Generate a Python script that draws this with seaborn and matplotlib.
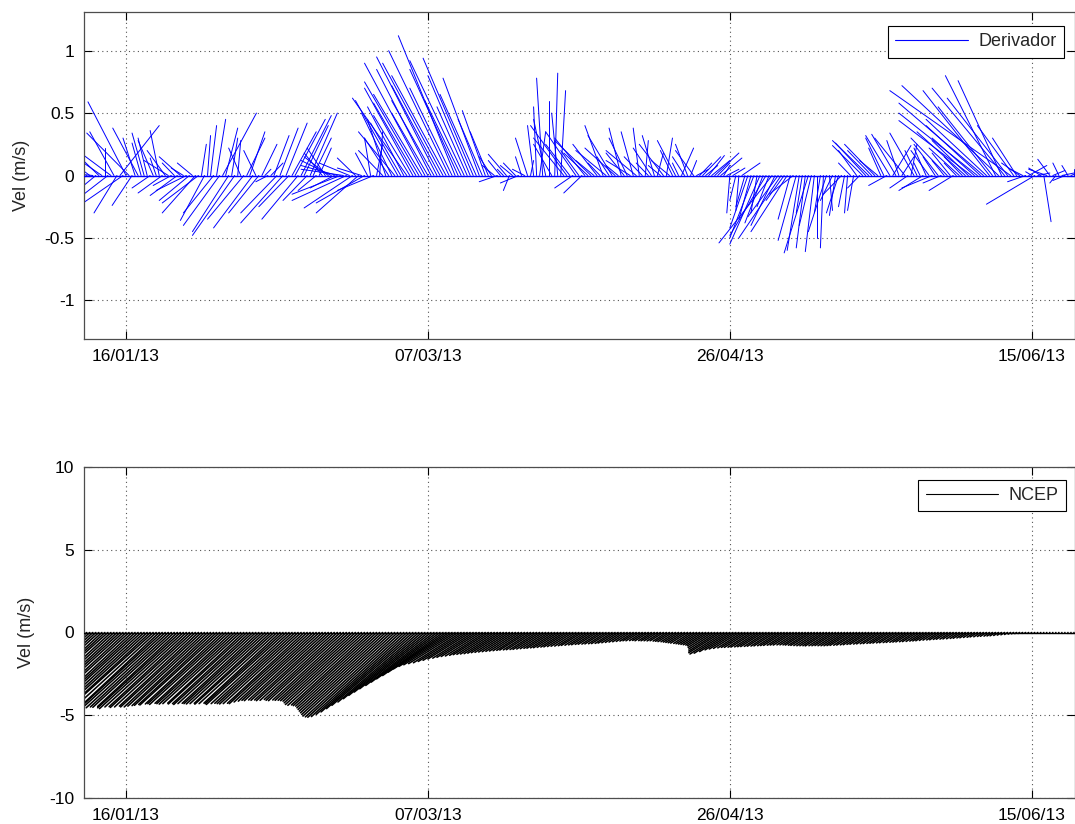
import numpy as np
import pandas as pd
import matplotlib
matplotlib.use("Agg")
import matplotlib.pyplot as plt
import matplotlib.dates as mdates
from matplotlib.lines import Line2D
import seaborn as sns

# ---------------- data ----------------
# sampling: every 12 h, day-of-year 9.0 ... 173.0 (2013)
start_doy = 9.0
step_days = 0.5

# Drifter (Derivador) sticks: east component as time offset (days), north component (m/s)
drift_u = [
    -3, -4, -5, -6, -5, -6, -3, 0, -4, -5, -4, -3.8, 6.5, -6.6, -6.3, -7, -3.3, -2, -4.2, -1.5,
    -2, -1.5, -3, -2.5, -1, -1.5, -4, -3, -4, -3, -2, -4.5, -3.5, -2, -5, -5, -2.5, -5.5, -6, 0.8,
    -4, 0.5, 1, -5, 1.5, -6, 5.6, 2, -6, 1, -7, 0.5, -2, -6, 3, 2.5, -6.5, -2, -5, 2.5,
    1, -2, 2, 2.5, -6, 3, -7, 3.5, -5, 4, 5, -6, 5, 4, -4, 4.5, 3, -3, 2, -3,
    -3, -4, -5, -4, -6, -8, -7, -9, -5, -8, -3, -7, -4, -8, -2, -1, -6, 1, 0.5, -4,
    -3, -4, -5, -6, -7, -5, -6, -9, -6, -8, -7, -9, -8, -10, -6, -9, -7, -10, -8, -10,
    -9, -10, -7, -9.4, -8, -6, -9, -5, -7, -8.3, -6, -6, -4, -3.8, -3, -2, -2, -3, -2, -1,
    -3, -1, -2, -2, -3, -1, -2, -2, 0.5, -1, -0.5, 1, -1, -2, 0, -3, 0.5, -1, 0.8, -5,
    -6, -4, -3, -5, -3, -3, -5, -4, -6, -3, -4, -2, -3, -5, -2, -4, -5, -2, -2, -3,
    -3, -4, -2, -5, -1, -3, 0.5, -2, -3, -2, 1, -2, -4, 1, -3, -2, -3, -1, 2, -2,
    -2, 1, -3, 2, 2, 3, 2, 2.6, 3, 4, 2, 3.5, 1, 2, -0.5, 2, -1, -0.5, 3, -1.5,
    -3, -2, -4, -1, -5, -3, -6, -2, -8.8, -4, -5, -7, -3, -6, -2, -4, -3, -2, -1, -1.5,
    -4, -2, -1.5, 0, -1, -0.5, -3, 0.5, -2, -1, -2, -3, -1, -0.5, -2, -1, -3, -2, -5, -5,
    -6, -4, -5, -3, -2, -3, -3, -4, 3, -4, -2, 2, -5, -3, 1, -4, -2, -1, -4, -2,
    -3, -5, -2, -4, -3, -2, -6, -3, -4, -2, -5, -3, -8, -6, -12, -7, -13, -9, -14, -10,
    -11, -9, -8.3, -16, -7.2, -12, -10, -20, -6, -4, -3, -2, -3, 3, -1, -8, 2, -2, 1.2, -3,
    -2, 2, -1, -1, 3, -2, -1, 1, 0,
]
drift_v = [
    0.05, -0.12, 0.18, 0.03, -0.2, 0.28, 0.1, 0.22, -0.15, 0.18, 0.35, -0.3, 0.4, -0.22, 0.59, 0.34, -0.24, 0.3, 0.38, 0.26,
    0.34, 0.3, -0.1, 0.28, 0.14, 0.36, -0.14, 0.2, 0.12, -0.08, 0.1, -0.16, 0.15, 0.06, -0.12, -0.2, 0.1, -0.3, -0.22, 0.25,
    -0.36, 0.32, 0.4, -0.3, 0.45, -0.4, 0.5, 0.38, -0.45, 0.3, -0.48, 0.28, 0.22, -0.35, 0.3, 0.35, -0.42, 0.2, -0.3, 0.25,
    0.05, -0.05, 0.1, 0.32, -0.3, 0.38, -0.38, 0.42, -0.25, 0.35, 0.45, -0.35, 0.48, 0.4, -0.2, 0.5, 0.3, -0.12, 0.22, 0.18,
    0.22, 0.15, 0.12, -0.1, 0.08, -0.15, 0.05, -0.2, 0.1, -0.26, 0.14, -0.3, 0.06, -0.22, 0.18, 0.3, -0.12, 0.25, 0.35, 0.2,
    0.45, 0.3, 0.5, 0.35, 0.6, 0.42, 0.55, 0.62, 0.48, 0.7, 0.58, 0.75, 0.65, 0.9, 0.5, 0.85, 0.6, 0.95, 0.72, 0.9,
    0.8, 1.0, 0.7, 1.12, 0.85, 0.6, 0.92, 0.55, 0.8, 0.94, 0.65, 0.78, 0.45, 0.52, 0.35, 0.15, 0.08, -0.05, 0.12, 0.05,
    0.17, -0.12, 0.08, 0.1, -0.06, 0.15, 0.05, 0.3, 0.12, 0.4, 0.55, 0.35, 0.78, 0.45, 0.6, 0.25, 0.82, 0.5, 0.68, 0.3,
    0.4, 0.25, -0.1, 0.35, 0.2, -0.14, 0.3, 0.18, 0.28, 0.12, 0.25, 0.1, 0.4, 0.2, 0.15, 0.32, 0.22, 0.08, 0.38, 0.18,
    0.3, 0.12, 0.35, 0.2, 0.38, 0.15, 0.28, 0.1, 0.22, 0.32, 0.18, 0.08, 0.25, 0.3, 0.12, 0.2, 0.28, 0.1, 0.22, 0.15,
    0.25, 0.12, 0.2, 0.05, 0.1, 0.15, 0.08, 0.16, 0.12, 0.18, 0.1, 0.14, 0.08, 0.05, -0.3, 0.06, -0.2, -0.28, 0.1, -0.25,
    -0.42, -0.35, -0.5, -0.3, -0.55, -0.38, -0.48, -0.25, -0.54, -0.4, -0.33, -0.5, -0.2, -0.45, -0.35, -0.15, -0.52, -0.6, -0.3, -0.58,
    -0.62, -0.4, -0.61, -0.5, -0.3, -0.58, -0.45, -0.28, -0.2, -0.32, -0.3, -0.15, -0.25, -0.3, 0.1, -0.28, 0.2, -0.1, 0.24, 0.26,
    0.28, 0.2, 0.25, 0.12, 0.22, 0.3, -0.08, 0.32, 0.24, 0.33, 0.28, 0.15, 0.3, -0.1, 0.25, 0.34, 0.2, 0.1, -0.12, 0.22,
    0.2, -0.1, 0.15, 0.25, -0.06, 0.12, 0.3, 0.18, -0.12, 0.1, 0.22, 0.15, 0.35, 0.28, 0.44, 0.3, 0.5, 0.4, 0.58, 0.45,
    0.68, 0.55, 0.8, 0.72, 0.76, 0.7, 0.62, 0.68, 0.4, 0.3, 0.1, 0.05, -0.05, 0.08, 0.03, -0.23, 0.02, 0.06, -0.37, 0.05,
    0.13, 0.04, -0.06, 0.1, 0.03, -0.04, 0.08, 0.02, 0.05,
]

# NCEP wind sticks: east component as time offset (days), north component (m/s)
ncep_u = [
    -13.5, -13.2, -13.8, -13.4, -13.6, -13.9, -13.1, -13.5, -14.2, -13.6, -13.5, -13.3, -13.7, -13.9, -13.4, -13.6, -13.2, -13.5, -13.8, -13.5,
    -13.4, -13.6, -13.3, -14.0, -13.5, -13.0, -13.5, -13.8, -13.6, -13.4, -13.5, -13.2, -13.7, -13.9, -13.5, -13.3, -13.6, -13.4, -13.1, -13.4,
    -13.3, -13.2, -13.0, -13.1, -12.9, -13.2, -12.8, -12.9, -13.1, -12.7, -12.9, -13.0, -12.9, -12.6, -13.0, -12.8, -13.1, -12.9, -12.7, -12.9,
    -13.0, -12.9, -12.7, -13.1, -12.9, -12.6, -12.9, -13.2, -12.9, -12.8, -12.9, -13.0, -12.9, -12.7, -12.9, -12.6, -12.4, -12.3, -12.4, -12.2,
    -12.3, -12.2, -12.4, -12.3, -12.1, -12.3, -12.4, -12.2, -12.3, -12.3, -12.4, -12.5, -12.8, -13.1, -13.2, -13.1, -13.3, -13.4, -13.7, -14.0,
    -14.3, -14.6, -14.9, -15.2, -15.3, -15.4, -15.3, -15.0, -14.7, -14.3, -13.9, -13.4, -13.0, -12.6, -12.2, -11.8, -11.3, -10.9, -10.5, -10.0,
    -9.6, -9.2, -8.8, -8.5, -8.2, -7.9, -7.6, -7.3, -7.0, -6.7, -6.5, -6.3, -6.1, -5.9, -5.8, -5.7, -5.6, -5.5, -5.4, -5.3,
    -5.2, -5.1, -5.0, -4.9, -4.8, -4.7, -4.6, -4.6, -4.5, -4.5, -4.4, -4.4, -4.3, -4.2, -4.1, -4.1, -4.0, -4.0, -3.9, -3.8,
    -3.8, -3.7, -3.6, -3.5, -3.4, -3.4, -3.3, -3.2, -3.2, -3.1, -3.1, -3.0, -3.0, -2.9, -2.9, -2.8, -2.8, -2.7, -2.6, -2.5,
    -2.4, -2.3, -2.2, -2.2, -2.2, -2.1, -2.1, -2.2, -2.1, -2.2, -2.2, -2.2, -2.2, -2.2, -2.3, -2.4, -2.4, -2.5, -2.6, -2.7,
    -2.8, -2.8, -2.9, -3.0, -3.1, -3.2, -3.3, -3.5, -3.9, -4.3, -4.8, -5.3, -5.6, -5.4, -5.0, -4.6, -4.4, -4.2, -4.0, -3.9,
    -3.9, -3.8, -3.8, -3.7, -3.7, -3.7, -3.6, -3.6, -3.5, -3.5, -3.4, -3.4, -3.4, -3.3, -3.3, -3.3, -3.2, -3.2, -3.2, -3.3,
    -3.3, -3.4, -3.4, -3.4, -3.4, -3.4, -3.5, -3.4, -3.4, -3.4, -3.4, -3.4, -3.4, -3.4, -3.4, -3.3, -3.3, -3.2, -3.2, -3.1,
    -3.1, -3.0, -3.0, -2.9, -2.9, -2.8, -2.8, -2.8, -2.7, -2.7, -2.6, -2.6, -2.5, -2.5, -2.5, -2.4, -2.4, -2.3, -2.2, -2.2,
    -2.2, -2.1, -2.0, -1.9, -1.9, -1.8, -1.8, -1.7, -1.7, -1.6, -1.5, -1.5, -1.4, -1.4, -1.3, -1.2, -1.2, -1.1, -1.0, -1.0,
    -0.9, -0.9, -0.9, -0.8, -0.7, -0.6, -0.5, -0.4, -0.35, -0.3, -0.26, -0.22, -0.17, -0.15, -0.13, -0.11, -0.09, -0.08, -0.06, -0.05,
    -0.04, -0.04, -0.03, -0.03, -0.02, -0.02, -0.01, -0.01, -0.01,
]
ncep_v = [
    -4.55, -4.5, -4.6, -4.48, -4.52, -4.58, -4.45, -4.5, -4.62, -4.55, -4.5, -4.47, -4.56, -4.6, -4.5, -4.53, -4.48, -4.55, -4.6, -4.52,
    -4.5, -4.55, -4.48, -4.6, -4.52, -4.45, -4.5, -4.58, -4.55, -4.5, -4.52, -4.47, -4.55, -4.6, -4.5, -4.48, -4.53, -4.5, -4.45, -4.5,
    -4.5, -4.45, -4.42, -4.4, -4.35, -4.38, -4.32, -4.3, -4.35, -4.28, -4.3, -4.33, -4.3, -4.27, -4.32, -4.3, -4.35, -4.3, -4.28, -4.3,
    -4.32, -4.3, -4.28, -4.33, -4.3, -4.27, -4.3, -4.35, -4.3, -4.28, -4.3, -4.32, -4.3, -4.28, -4.3, -4.2, -4.15, -4.1, -4.12, -4.08,
    -4.1, -4.08, -4.12, -4.1, -4.05, -4.1, -4.12, -4.08, -4.1, -4.1, -4.12, -4.15, -4.25, -4.35, -4.4, -4.38, -4.42, -4.45, -4.55, -4.65,
    -4.75, -4.85, -4.95, -5.05, -5.1, -5.12, -5.08, -4.95, -4.8, -4.6, -4.4, -4.2, -4.0, -3.8, -3.6, -3.4, -3.2, -3.0, -2.8, -2.6,
    -2.4, -2.2, -2.05, -1.95, -1.88, -1.83, -1.75, -1.68, -1.6, -1.55, -1.5, -1.45, -1.42, -1.38, -1.34, -1.32, -1.3, -1.28, -1.25, -1.22,
    -1.2, -1.18, -1.16, -1.14, -1.12, -1.1, -1.08, -1.06, -1.05, -1.04, -1.03, -1.02, -1.0, -0.98, -0.96, -0.95, -0.93, -0.92, -0.9, -0.88,
    -0.87, -0.85, -0.83, -0.82, -0.8, -0.78, -0.77, -0.75, -0.74, -0.72, -0.71, -0.7, -0.69, -0.68, -0.67, -0.66, -0.64, -0.62, -0.6, -0.58,
    -0.56, -0.54, -0.52, -0.5, -0.5, -0.49, -0.48, -0.5, -0.49, -0.5, -0.5, -0.51, -0.5, -0.52, -0.53, -0.55, -0.56, -0.58, -0.6, -0.62,
    -0.64, -0.66, -0.68, -0.7, -0.72, -0.74, -0.76, -0.8, -0.9, -1.0, -1.12, -1.22, -1.3, -1.25, -1.15, -1.05, -1.0, -0.96, -0.93, -0.9,
    -0.9, -0.89, -0.88, -0.87, -0.86, -0.85, -0.84, -0.83, -0.82, -0.81, -0.8, -0.79, -0.78, -0.77, -0.76, -0.76, -0.75, -0.75, -0.75, -0.76,
    -0.77, -0.78, -0.79, -0.8, -0.8, -0.8, -0.81, -0.8, -0.8, -0.79, -0.8, -0.8, -0.8, -0.79, -0.78, -0.77, -0.76, -0.75, -0.74, -0.72,
    -0.71, -0.7, -0.69, -0.68, -0.67, -0.66, -0.65, -0.64, -0.63, -0.62, -0.61, -0.6, -0.59, -0.58, -0.57, -0.56, -0.55, -0.54, -0.52, -0.51,
    -0.5, -0.48, -0.46, -0.45, -0.44, -0.42, -0.41, -0.4, -0.39, -0.38, -0.36, -0.35, -0.33, -0.32, -0.3, -0.29, -0.27, -0.26, -0.24, -0.23,
    -0.22, -0.21, -0.2, -0.18, -0.16, -0.14, -0.12, -0.1, -0.08, -0.07, -0.06, -0.05, -0.04, -0.035, -0.03, -0.025, -0.02, -0.018, -0.015, -0.012,
    -0.01, -0.01, -0.008, -0.006, -0.005, -0.004, -0.003, -0.002, -0.002,
]

tick_dates = ["2013-01-16", "2013-03-07", "2013-04-26", "2013-06-15"]
xlim_dates = ["2013-01-09 01:00", "2013-06-22 02:00"]
labels = ["Derivador", "NCEP"]

# ---------------- helpers ----------------
base = mdates.date2num(np.datetime64("2013-01-01"))


def stick_frame(u, v):
    n = len(v)
    t = base + start_doy - 1 + step_days * np.arange(n)
    u = np.asarray(u, float)
    v = np.asarray(v, float)
    df = pd.DataFrame({
        "stick": np.repeat(np.arange(n), 2),
        "x": np.column_stack([t, t + u]).ravel(),
        "y": np.column_stack([np.zeros(n), v]).ravel(),
    })
    return df


sns.set_style("white")
plt.rcParams["font.family"] = ["Liberation Sans", "DejaVu Sans"]

fig = plt.figure(figsize=(10.75, 8.24), dpi=100)
ax1 = fig.add_axes([84 / 1075, 1 - 339 / 824, (1074.5 - 84) / 1075, (339 - 12) / 824])
ax2 = fig.add_axes([84 / 1075, 1 - 798 / 824, (1074.5 - 84) / 1075, (798 - 467) / 824])

panels = [
    (ax1, stick_frame(drift_u, drift_v), "#0000ff", 0.7, (-1.31, 1.31), [-1, -0.5, 0, 0.5, 1],
     ["-1", "-0.5", "0", "0.5", "1"], labels[0], (0.9894, 0.957)),
    (ax2, stick_frame(ncep_u, ncep_v), "#000000", 1.15, (-10, 10), [-10, -5, 0, 5, 10],
     ["-10", "-5", "0", "5", "10"], labels[1], (0.9914, 0.9607)),
]

xlim = [mdates.date2num(np.datetime64(d)) for d in xlim_dates]
xticks = [mdates.date2num(np.datetime64(d)) for d in tick_dates]

for ax, df, col, lw, ylim, yt, ytl, lab, anchor in panels:
    sns.lineplot(data=df, x="x", y="y", units="stick", estimator=None, sort=False,
                 color=col, lw=lw, ax=ax, legend=False)
    ax.axhline(0, color=col, lw=1.0, zorder=3)
    ax.set_xlim(xlim)
    ax.set_ylim(ylim)
    ax.set_xticks(xticks)
    ax.xaxis.set_major_formatter(mdates.DateFormatter("%d/%m/%y"))
    ax.set_yticks(yt)
    ax.set_yticklabels(ytl)
    ax.set_xlabel("")
    ax.set_ylabel("Vel (m/s)", fontsize=13, labelpad=10)
    ax.grid(True, linestyle=(0, (1, 3)), color="#555555", lw=0.8)
    ax.tick_params(direction="in", length=6, width=0.8, labelsize=12.5,
                   top=True, right=True, bottom=True, left=True, pad=7, colors="#000000")
    for s in ax.spines.values():
        s.set_visible(True)
        s.set_color("#4d4d4d")
        s.set_linewidth(0.9)
    h = Line2D([], [], color=col, lw=0.8)
    leg = ax.legend([h], [lab], loc="upper right", bbox_to_anchor=anchor, fontsize=13,
                    handlelength=4.0, handletextpad=0.6, borderpad=0.4, borderaxespad=0.0,
                    fancybox=False, framealpha=1, edgecolor="#000000")
    leg.get_frame().set_linewidth(0.8)

fig.savefig("out.png", dpi=100)
